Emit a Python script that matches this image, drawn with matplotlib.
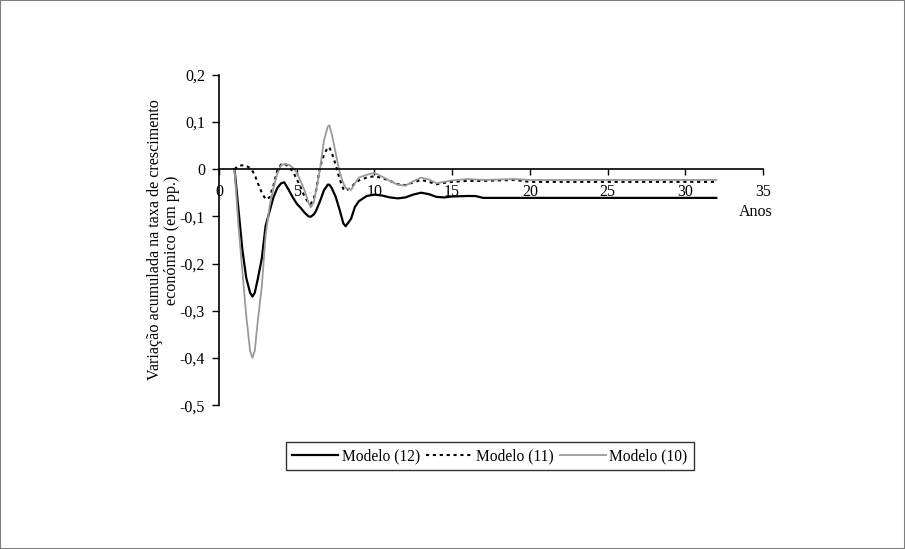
import matplotlib
matplotlib.use("Agg")
import matplotlib.pyplot as plt
from matplotlib.patches import Rectangle
from matplotlib.transforms import Bbox

plt.rcParams['font.family'] = ['Liberation Serif', 'DejaVu Serif']

# Years (finer steps where the curves move fast)
anos = [1, 1.25, 1.5, 1.75, 2.0, 2.15, 2.3, 2.5, 2.75, 3.0, 3.25, 3.5, 3.75,
        4.0, 4.2, 4.5, 4.75, 5.0, 5.25, 5.5, 5.75, 5.9, 6.1, 6.25, 6.5, 6.75,
        7.0, 7.1, 7.25, 7.5, 7.75, 8.0, 8.15, 8.5, 8.75, 9.0, 9.5, 10, 10.5,
        11, 11.5, 12, 12.5, 13, 13.5, 14, 14.5, 15, 16, 16.5, 17, 18, 19, 20,
        21, 22, 23, 24, 25, 26, 27, 28, 29, 30, 31, 32]

modelo_12 = [0, -0.085, -0.17, -0.23, -0.262, -0.27, -0.262, -0.232, -0.19, -0.12,
             -0.09, -0.06, -0.04, -0.03, -0.028, -0.045, -0.06, -0.073, -0.082,
             -0.092, -0.1, -0.101, -0.096, -0.088, -0.068, -0.045, -0.033, -0.033,
             -0.04, -0.058, -0.085, -0.115, -0.121, -0.105, -0.08, -0.068, -0.057,
             -0.054, -0.056, -0.06, -0.062, -0.06, -0.054, -0.05, -0.053, -0.059,
             -0.06, -0.058, -0.057, -0.057, -0.061, -0.061, -0.061, -0.061, -0.061,
             -0.061, -0.061, -0.061, -0.061, -0.061, -0.061, -0.061, -0.061, -0.061,
             -0.061, -0.061]

modelo_11 = [0, 0.007, 0.008, 0.007, 0.002, -0.004, -0.012, -0.03, -0.05, -0.064,
             -0.06, -0.035, -0.003, 0.01, 0.012, 0.004, -0.005, -0.021, -0.038,
             -0.058, -0.071, -0.074, -0.062, -0.045, 0.005, 0.03, 0.046, 0.046,
             0.035, 0.01, -0.02, -0.042, -0.046, -0.039, -0.03, -0.024, -0.018,
             -0.015, -0.019, -0.025, -0.032, -0.034, -0.028, -0.023, -0.027, -0.032,
             -0.029, -0.027, -0.025, -0.025, -0.025, -0.024, -0.023, -0.027, -0.027,
             -0.027, -0.027, -0.027, -0.027, -0.027, -0.027, -0.027, -0.027, -0.027,
             -0.027, -0.027]

modelo_10 = [0, -0.12, -0.215, -0.31, -0.385, -0.4, -0.385, -0.32, -0.25, -0.14,
             -0.08, -0.04, -0.01, 0.008, 0.011, 0.009, 0.003, -0.007, -0.025,
             -0.045, -0.07, -0.081, -0.07, -0.045, 0.0, 0.06, 0.09, 0.093, 0.075,
             0.035, -0.005, -0.03, -0.04, -0.044, -0.03, -0.018, -0.012, -0.008,
             -0.016, -0.025, -0.033, -0.035, -0.026, -0.018, -0.022, -0.03, -0.027,
             -0.024, -0.021, -0.022, -0.023, -0.022, -0.021, -0.023, -0.023, -0.023,
             -0.023, -0.023, -0.023, -0.023, -0.023, -0.023, -0.023, -0.023, -0.023,
             -0.023]

xticks = [0, 5, 10, 15, 20, 25, 30, 35]
yticks = [0.2, 0.1, 0, -0.1, -0.2, -0.3, -0.4, -0.5]

fig = plt.figure(figsize=(9.05, 5.49), dpi=100)
ax = fig.add_axes([0.242, 0.262, 0.601, 0.602])

ax.plot(anos, modelo_12, color='black', linewidth=1.6, label='Modelo (12)')
ax.plot(anos, modelo_11, color='black', linewidth=1.5, linestyle=(0, (1.5, 1.8)),
        label='Modelo (11)')
ax.plot(anos, modelo_10, color='#9a9a9a', linewidth=1.3, label='Modelo (10)')

ax.set_xlim(0, 35)
ax.set_ylim(-0.5, 0.2)
ax.spines['top'].set_visible(False)
ax.spines['right'].set_visible(False)
ax.spines['bottom'].set_position(('data', 0))
ax.spines['left'].set_linewidth(1.2)
ax.spines['bottom'].set_linewidth(1.2)

ax.set_xticks(xticks)
ax.set_yticks(yticks)
ax.set_yticklabels([('%g' % v).replace('.', ',') for v in yticks])
ax.tick_params(axis='x', direction='out', length=4, width=1, pad=7, labelsize=11.5)
ax.tick_params(axis='y', direction='out', length=5, width=1, pad=5, labelsize=11.5)

ax.text(0.987, 0.584, 'Anos', transform=ax.transAxes, ha='center', va='center',
        fontsize=11.5)

ylab = fig.text(0.1805, 0.563,
                'Variação acumulada na taxa de crescimento\neconómico (em pp.)',
                rotation=90, ha='center', va='center', multialignment='center',
                fontsize=11.6, linespacing=1.1)
ylab.set_clip_box(Bbox([[0, 0], [905, 549 - 100]]))
ylab.set_clip_on(True)

leg = ax.legend(loc='center', bbox_to_anchor=(0.541, 0.169),
                bbox_transform=fig.transFigure, ncol=3, frameon=True,
                fancybox=False, fontsize=11.2, handlelength=3.0,
                handletextpad=0.2, columnspacing=0.4, borderpad=0.4)
leg.get_frame().set_edgecolor('black')
leg.get_frame().set_linewidth(1.0)

fig.patches.append(Rectangle((0, 0), 1, 1, transform=fig.transFigure,
                             fill=False, edgecolor='#7f7f7f', linewidth=1.5))

fig.savefig('out.png', dpi=100)
